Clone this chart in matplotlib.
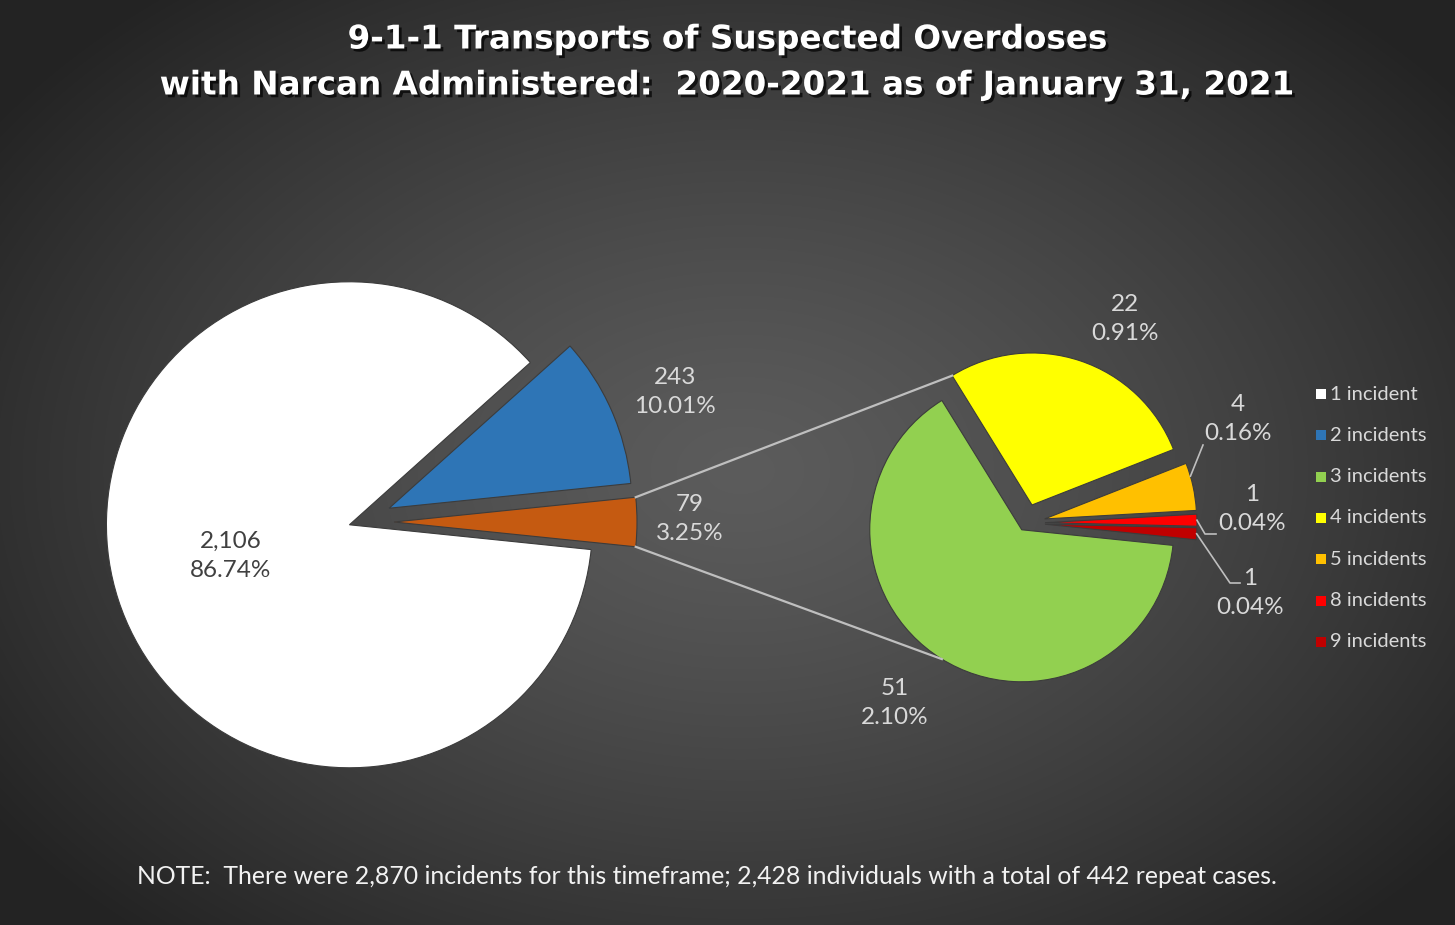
import numpy as np
import matplotlib
matplotlib.use("Agg")
import matplotlib.pyplot as plt
import matplotlib.patheffects as pe
from matplotlib.patches import Rectangle

# ---------------- data ----------------
title_text = "9-1-1 Transports of Suspected Overdoses\nwith Narcan Administered:  2020-2021 as of January 31, 2021"
note_text = ("NOTE:  There were 2,870 incidents for this timeframe; "
             "2,428 individuals with a total of 442 repeat cases.")

main_categories = ["Other", "2 incidents", "1 incident"]
main_counts = [79, 243, 2106]
main_colors = ["#c55a11", "#2e75b6", "#ffffff"]

sub_categories = ["4 incidents", "5 incidents", "8 incidents", "9 incidents", "3 incidents"]
sub_counts = [22, 4, 1, 1, 51]
sub_colors = ["#ffff00", "#ffc000", "#ff0000", "#c00000", "#92d050"]

legend_labels = ["1 incident", "2 incidents", "3 incidents", "4 incidents",
                 "5 incidents", "8 incidents", "9 incidents"]
legend_colors = ["#ffffff", "#2e75b6", "#92d050", "#ffff00", "#ffc000", "#ff0000", "#c00000"]

total = sum(main_counts)

# ---------------- figure ----------------
W, H = 1455, 925
fig = plt.figure(figsize=(W / 100, H / 100), dpi=100)
ax = fig.add_axes([0, 0, 1, 1])

def Y(py):
    return H - py

# background radial gradient
yy, xx = np.mgrid[0:H, 0:W]
d = np.sqrt(((xx - 740) / 900.0) ** 2 + ((yy - 470) / 620.0) ** 2)
d = np.clip(d, 0, 1)
lum = 0.36 - 0.22 * d ** 1.3
bg = np.dstack([lum, lum, lum])
ax.imshow(bg, extent=[0, W, 0, H], origin="upper", zorder=0, aspect="auto")

label_color = "#d9d9d9"
fam = ["Lato", "DejaVu Sans"]
wp = dict(edgecolor="#3c3c3c", linewidth=0.8)

# ---------------- main pie ----------------
main_center = (358, Y(522))
main_r = 243
main_start = -main_counts[0] / total * 180.0
wedges_main, _ = ax.pie(main_counts, colors=main_colors, startangle=main_start,
                        counterclock=True, radius=main_r, center=main_center,
                        explode=[36, 34, 9], wedgeprops=wp, frame=True)

# ---------------- secondary pie ----------------
sub_center = (1026, Y(523))
sub_r = 152
wedges_sub, _ = ax.pie(sub_counts, colors=sub_colors, startangle=121.7,
                       counterclock=False, radius=sub_r, center=sub_center,
                       explode=[19, 19, 19, 19, 8], wedgeprops=wp, frame=True)
ax.set_xlim(0, W)
ax.set_ylim(0, H)
ax.set_aspect("equal")
ax.axis("off")

def pt(w, ang, r=None):
    r = w.r if r is None else r
    a = np.deg2rad(ang)
    return (w.center[0] + r * np.cos(a), w.center[1] + r * np.sin(a))

# connector lines
wo = wedges_main[0]
p_top_main = pt(wo, wo.theta2)
p_bot_main = pt(wo, wo.theta1)
wy = wedges_sub[0]
wg = wedges_sub[-1]
top_ang = max(wy.theta1, wy.theta2)
p_top_sub = pt(wy, top_ang)
p_bot_sub = pt(wg, 360 - top_ang)
ax.plot([p_top_main[0], p_top_sub[0]], [p_top_main[1], p_top_sub[1]],
        color="#bfbfbf", lw=1.6, zorder=1)
ax.plot([p_bot_main[0], p_bot_sub[0]], [p_bot_main[1], p_bot_sub[1]],
        color="#bfbfbf", lw=1.6, zorder=1)

def lab(v):
    return f"{v:,}\n{v / total * 100:.2f}%"

lbl_kw = dict(color=label_color, fontsize=17.5, ha="center", va="center",
              family=fam, linespacing=1.5, zorder=5)

# main labels
ax.text(231, Y(556), lab(main_counts[2]), **{**lbl_kw, "color": "#404040"})
ax.text(675, Y(392), lab(main_counts[1]), **lbl_kw)
ax.text(690, Y(519), lab(main_counts[0]), **lbl_kw)

# secondary labels
ax.text(1125, Y(319), lab(sub_counts[0]), **lbl_kw)
ax.text(1238, Y(419), lab(sub_counts[1]), **lbl_kw)
ax.text(1252, Y(509), lab(sub_counts[2]), **lbl_kw)
ax.text(1250, Y(593), lab(sub_counts[3]), **lbl_kw)
ax.text(895, Y(703), lab(sub_counts[4]), **lbl_kw)

# leader lines
lc = "#bfbfbf"
w5 = wedges_sub[1]
s = pt(w5, (w5.theta1 + w5.theta2) / 2 + 4)
ax.plot([s[0], 1203], [s[1], Y(445)], color=lc, lw=1.2, zorder=4)
w8 = wedges_sub[2]
s = pt(w8, (w8.theta1 + w8.theta2) / 2)
ax.plot([s[0], 1205, 1216], [s[1], Y(534), Y(534)], color=lc, lw=1.2, zorder=4)
w9 = wedges_sub[3]
s = pt(w9, (w9.theta1 + w9.theta2) / 2)
ax.plot([s[0], 1230, 1240], [s[1], Y(583), Y(583)], color=lc, lw=1.2, zorder=4)

# ---------------- legend ----------------
for i, (lt, lcol) in enumerate(zip(legend_labels, legend_colors)):
    yc = Y(394 + i * 41.3)
    ax.add_patch(Rectangle((1316, yc - 5), 10, 10, facecolor=lcol, edgecolor="none", zorder=5))
    ax.text(1330, yc, lt, color=label_color, fontsize=14.5, ha="left", va="center",
            family=fam, zorder=5)

# ---------------- title & note ----------------
ax.text(727, Y(62), title_text, color="white", fontsize=23.5, fontweight="bold",
        ha="center", va="center", family=["DejaVu Sans"], linespacing=1.5,
        zorder=6,
        path_effects=[pe.withSimplePatchShadow(offset=(2, -2), shadow_rgbFace="black", alpha=0.7)])

ax.text(707, Y(877), note_text, color="#f2f2f2", fontsize=17.8, ha="center", va="center",
        family=fam, zorder=6)

fig.savefig("out.png", dpi=100)
